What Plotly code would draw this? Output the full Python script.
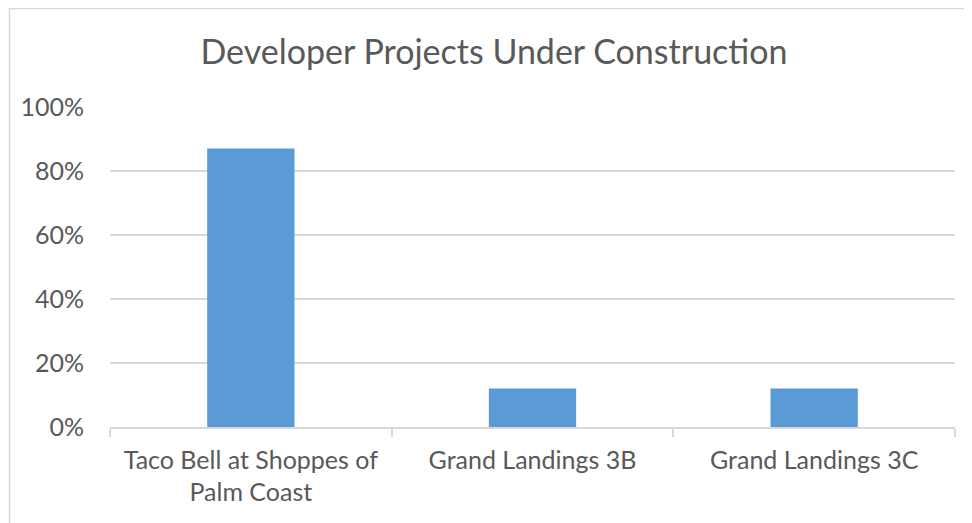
import plotly.graph_objects as go

categories = ["Taco Bell at Shoppes of<br>Palm Coast", "Grand Landings 3B", "Grand Landings 3C"]
values = [0.87, 0.12, 0.12]
title_text = "Developer Projects Under Construction"

FONT = "Lato"
TEXT = "#595959"
GRID = "#D9D9D9"

# page body has an 8px margin; compensate so plot area lands at the reference position
L, R, T, B = 102, 25, 99, 104
PW = 972 - L - R
PH = 523 - T - B

fig = go.Figure(go.Bar(x=categories, y=values, marker=dict(color="#5B9BD5", line=dict(width=0)), width=0.31))

fig.update_layout(
    width=972, height=523,
    margin=dict(l=L, r=R, t=T, b=B),
    paper_bgcolor="white", plot_bgcolor="white",
    font=dict(family=FONT, color=TEXT, size=25),
    title=dict(text=title_text, x=0.5, xref="container", xanchor="center", y=1 - 44 / 523, yanchor="middle",
               font=dict(family=FONT, size=34, color=TEXT)),
    showlegend=False,
    shapes=[dict(type="rect", xref="paper", yref="paper",
                 x0=(1.5 - L) / PW, x1=(1000 - L) / PW, y0=-0.6, y1=(PH + T - 0.5) / PH,
                 line=dict(color=GRID, width=1.5), fillcolor="rgba(0,0,0,0)", layer="below")],
)
fig.update_xaxes(showline=True, linecolor=GRID, linewidth=1.5, ticks="outside", ticklen=8, tickcolor=GRID,
                 tickwidth=1.5, tickson="boundaries", showgrid=False, ticklabelstandoff=10,
                 tickfont=dict(size=25, color=TEXT))
fig.update_yaxes(range=[0, 1], dtick=0.2, tickformat=".0%", showgrid=True, gridcolor=GRID, gridwidth=1.5,
                 zeroline=False, showline=False, ticklabelstandoff=25, tickfont=dict(size=25, color=TEXT))

fig.write_html("out.html")
